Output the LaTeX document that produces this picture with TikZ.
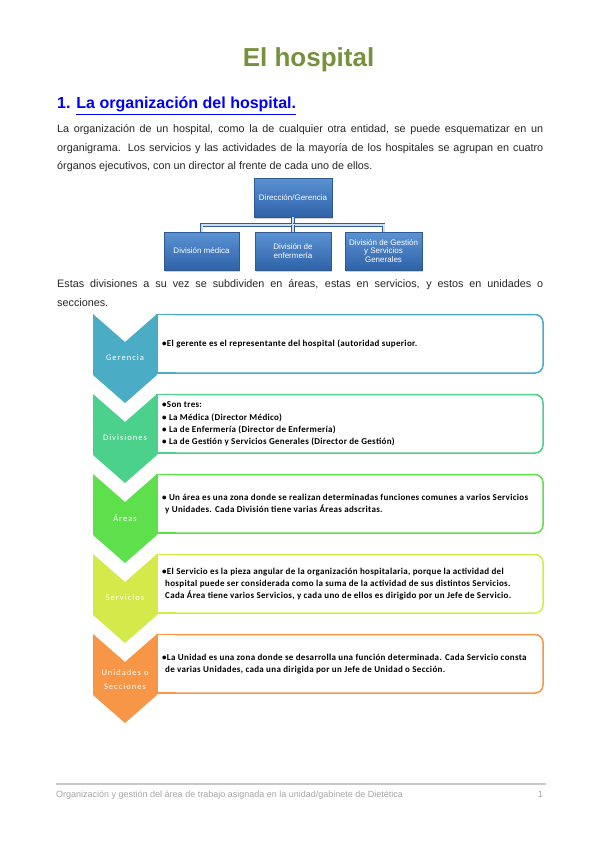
\documentclass[tikz,border=0pt]{standalone}
\usepackage{fontspec}
\setmainfont{Liberation Sans}
\newfontfamily\calib[LetterSpace=3.5]{Carlito}
\newfontfamily\calibls[LetterSpace=12]{Carlito}
\usetikzlibrary{shadows}
\definecolor{titlegreen}{HTML}{76923C}
\definecolor{headblue}{HTML}{0000FF}
\definecolor{bodytext}{HTML}{262626}
\definecolor{footgray}{HTML}{A6A6A6}
\definecolor{footline}{HTML}{C8C8C8}
\definecolor{orgtop}{HTML}{5B93D4}
\definecolor{orgbot}{HTML}{2F62A8}
\definecolor{orgborder}{HTML}{2E5A91}
\definecolor{orgconn}{HTML}{2F5C95}
\definecolor{cger}{HTML}{4BACC6}
\definecolor{cdiv}{HTML}{4CD18C}
\definecolor{care}{HTML}{5EE04C}
\definecolor{cser}{HTML}{D4EA4A}
\definecolor{cuni}{HTML}{F79646}
\newcommand{\chevshape}[2]{%
  \fill[#2] (93,#1) -- (125,#1+28) -- (157,#1) -- (157,#1+61) -- (125,#1+89) -- (93,#1+61) -- cycle;}
\newcommand{\listbox}[2]{%
  \draw[#2, line width=1.5pt, fill=white, rounded corners=8pt] (157,#1+0.5) rectangle (543,#1+59);
  \fill[white] (156,#1-0.5) rectangle (175,#1+60);
  \draw[#2, line width=1.5pt] (176,#1+0.5) -- (157,#1+0.5) -- (157,#1+59) -- (176,#1+59);}
\begin{document}
\begin{tikzpicture}[x=1pt,y=-1pt,
  bodyline/.style={anchor=base west, inner sep=0pt, text=bodytext, font=\fontsize{10.8}{13}\selectfont},
  orgbox/.style={draw=orgborder, line width=0.6pt, top color=orgtop, bottom color=orgbot,
    text=white, font=\fontsize{8}{8.8}\selectfont, align=center, inner sep=1pt,
    minimum width=76pt, minimum height=38pt,
    drop shadow={opacity=0.35, shadow xshift=0.8pt, shadow yshift=-1.8pt}},
  orgconnector/.style={draw=orgconn, line width=0.8pt, double=orgtop!30!white, double distance=2pt},
  chevlabel/.style={text=white, font=\calibls\fontsize{8.5}{14}\selectfont, align=center, inner sep=0pt},
  boxtext/.style={anchor=west, inner sep=0pt, align=left, font=\calib\bfseries\fontsize{9}{12.2}\selectfont}
]
\fill[white] (0,0) rectangle (599,848);
\useasboundingbox (0,0) rectangle (599,848);

% title and heading
\node[anchor=base, inner sep=0pt, text=titlegreen, font=\fontsize{26}{30}\selectfont\bfseries] (title) at (308.5,67) {El hospital};
\node[anchor=base west, inner sep=0pt, text=headblue, font=\fontsize{16}{19}\selectfont\bfseries] (head) at (57,109) {1. \underline{La organización del hospital.}};

% first paragraph
\node[bodyline] (p1) at (57,132.5) {\makebox[486pt][s]{La organización de un hospital, como la de cualquier otra entidad, se puede esquematizar en un}};
\node[bodyline] (p2) at (57,151) {\makebox[486pt][s]{organigrama. Los servicios y las actividades de la mayoría de los hospitales se agrupan en cuatro}};
\node[bodyline] (p3) at (57,169.5) {órganos ejecutivos, con un director al frente de cada uno de ellos.};

% org chart
\node[orgbox, minimum width=78pt, minimum height=39pt] (dir) at (293,197.5) {Dirección/Gerencia};
\node[orgbox, minimum width=75pt] (med) at (201.5,251) {División médica};
\node[orgbox] (enf) at (293,251) {División de\\enfermería};
\node[orgbox, minimum width=77pt] (ges) at (383.5,251) {División de Gestión\\y Servicios\\Generales};
\coordinate (junc) at (293,225);
\draw[orgconnector] (dir.south) -- (dir.south |- junc) -| (med.north);
\draw[orgconnector] (dir.south |- junc) -| (ges.north);
\draw[orgconnector] (dir.south |- junc) -- (enf.north);

% second paragraph
\node[bodyline] (q1) at (57,287) {\makebox[486pt][s]{Estas divisiones a su vez se subdividen en áreas, estas en servicios, y estos en unidades o}};
\node[bodyline] (q2) at (57,306) {secciones.};

% chevron list
\listbox{314}{cger}
\listbox{394}{cdiv}
\listbox{474}{care}
\listbox{554}{cser}
\listbox{634}{cuni}
\chevshape{314}{cger}
\chevshape{394}{cdiv}
\chevshape{474}{care}
\chevshape{554}{cser}
\chevshape{634}{cuni}

\node[chevlabel] (lger) at (125,358) {Gerencia};
\node[chevlabel] (ldiv) at (125,438) {Divisiones};
\node[chevlabel] (lare) at (125,518) {Áreas};
\node[chevlabel] (lser) at (125,598) {Servicios};
\node[chevlabel] (luni) at (125,680) {Unidades o\\Secciones};

\node[boxtext] (tger) at (162,343.5) {\textbullet El gerente es el representante del hospital (autoridad superior.};
\node[boxtext] (tdiv) at (162,424) {\textbullet Son tres:\\
  \textbullet\ La Médica (Director Médico)\\
  \textbullet\ La de Enfermería (Director de Enfermería)\\
  \textbullet\ La de Gestión y Servicios Generales (Director de Gestión)};
\node[boxtext] (tare) at (162,504) {\textbullet\ Un área es una zona donde se realizan determinadas funciones comunes a varios Servicios\\
  \hspace*{3pt}y Unidades. Cada División tiene varias Áreas adscritas.};
\node[boxtext] (tser) at (162,584) {\textbullet El Servicio es la pieza angular de la organización hospitalaria, porque la actividad del\\
  \hspace*{3pt}hospital puede ser considerada como la suma de la actividad de sus distintos Servicios.\\
  \hspace*{3pt}Cada Área tiene varios Servicios, y cada uno de ellos es dirigido por un Jefe de Servicio.};
\node[boxtext] (tuni) at (162,664) {\textbullet La Unidad es una zona donde se desarrolla una función determinada. Cada Servicio consta\\
  \hspace*{3pt}de varias Unidades, cada una dirigida por un Jefe de Unidad o Sección.};

% footer
\draw[footline, line width=1.2pt] (56,784) -- (546,784);
\node[anchor=base west, inner sep=0pt, text=footgray, font=\fontsize{9}{10}\selectfont] (foot) at (56,797) {Organización y gestión del área de trabajo asignada en la unidad/gabinete de Dietética};
\node[anchor=base east, inner sep=0pt, text=footgray, font=\fontsize{9}{10}\selectfont] (pnum) at (543,797) {1};
\end{tikzpicture}
\end{document}
